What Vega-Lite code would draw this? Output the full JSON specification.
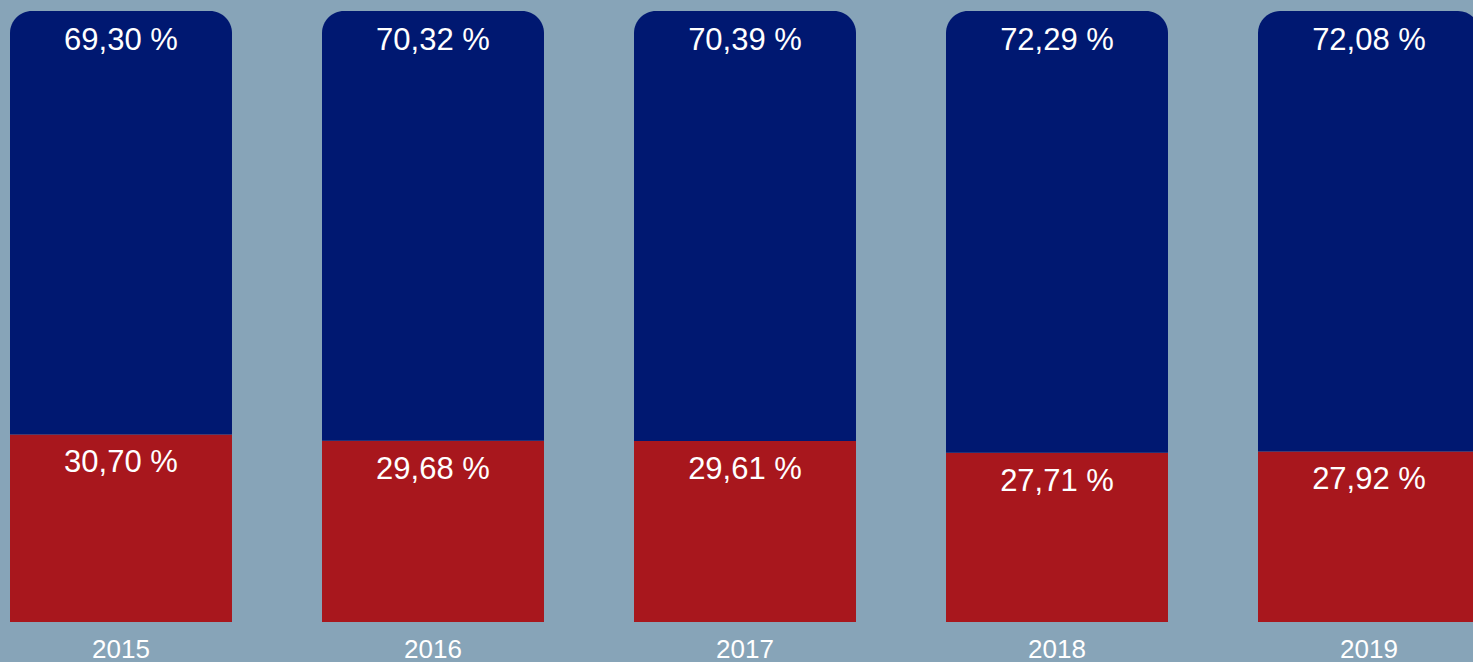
{
  "$schema": "https://vega.github.io/schema/vega-lite/v6.json",
  "width": 1473,
  "height": 611,
  "autosize": {"type": "none"},
  "padding": {"top": 11, "left": 0, "right": 0, "bottom": 40},
  "background": "#87A4B8",
  "config": {
    "view": {"stroke": null},
    "locale": {"number": {"decimal": ",", "thousands": ".", "grouping": [3], "currency": ["", " €"], "percent": " %"}},
    "font": "Liberation Sans"
  },
  "data": {
    "values": [
      {"year": "2015", "blue": 0.6930, "red": 0.3070},
      {"year": "2016", "blue": 0.7032, "red": 0.2968},
      {"year": "2017", "blue": 0.7039, "red": 0.2961},
      {"year": "2018", "blue": 0.7229, "red": 0.2771},
      {"year": "2019", "blue": 0.7208, "red": 0.2792}
    ]
  },
  "encoding": {
    "x": {
      "field": "year", "type": "nominal",
      "scale": {"range": [10, 1480], "paddingInner": 0.2885, "paddingOuter": 0},
      "axis": {"title": null, "domain": false, "ticks": false, "tickSize": 0, "grid": false, "labelAngle": 0, "labelFontSize": 26, "labelColor": "#FFFFFF", "labelPadding": 14, "labelFont": "Liberation Sans"}
    }
  },
  "layer": [
    {
      "mark": {"type": "bar", "color": "#A8171D"},
      "encoding": {
        "y": {"field": "red", "type": "quantitative", "scale": {"domain": [0, 1], "nice": false, "zero": true}, "axis": null}
      }
    },
    {
      "mark": {"type": "bar", "color": "#001871", "cornerRadiusTopLeft": 22, "cornerRadiusTopRight": 22},
      "encoding": {
        "y": {"field": "red", "type": "quantitative"},
        "y2": {"datum": 1}
      }
    },
    {
      "mark": {"type": "text", "color": "#FFFFFF", "fontSize": 31, "baseline": "alphabetic", "dy": 38.5, "align": "center"},
      "encoding": {
        "y": {"datum": 1, "type": "quantitative"},
        "text": {"field": "blue", "type": "quantitative", "format": ".2%"}
      }
    },
    {
      "mark": {"type": "text", "color": "#FFFFFF", "fontSize": 31, "baseline": "alphabetic", "dy": 38, "align": "center"},
      "encoding": {
        "y": {"field": "red", "type": "quantitative"},
        "text": {"field": "red", "type": "quantitative", "format": ".2%"}
      }
    }
  ]
}
